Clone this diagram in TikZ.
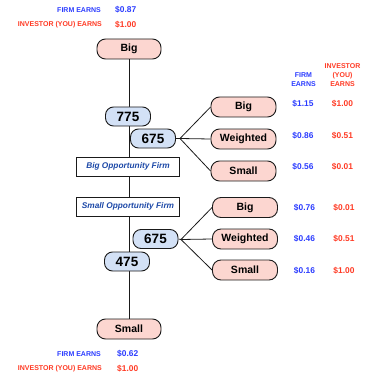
\documentclass[tikz,border=0pt]{standalone}
\usepackage{fontspec}
\setmainfont{Liberation Sans}
\usetikzlibrary{backgrounds}
\definecolor{pinkfill}{HTML}{FCD6D0}
\definecolor{bluefill}{HTML}{D3E1F6}
\definecolor{firmblue}{HTML}{2B3CFF}
\definecolor{invred}{HTML}{FF3A24}
\definecolor{boxblue}{HTML}{1D49A8}
\definecolor{edge}{HTML}{1A1A1A}
\tikzset{
  outcome/.style={draw=edge, line width=0.9pt, fill=pinkfill, rounded corners=8.5pt,
    minimum width=64pt, minimum height=20pt, inner sep=0pt,
    font=\fontsize{10.5}{12}\selectfont\bfseries},
  price/.style={draw=edge, line width=0.9pt, fill=bluefill, rounded corners=8pt,
    minimum width=45pt, minimum height=19pt, inner sep=0pt,
    font=\fontsize{13.5}{15}\selectfont\bfseries},
  firmbox/.style={draw=edge, line width=0.9pt, fill=white,
    minimum width=103pt, minimum height=19pt, inner sep=0pt,
    text=boxblue, font=\fontsize{8.3}{10}\selectfont\bfseries\itshape},
  wire/.style={draw=edge, line width=0.8pt},
  firmtxt/.style={text=firmblue, inner sep=0pt, font=\fontsize{7}{9}\selectfont\bfseries},
  invtxt/.style={text=invred, inner sep=0pt, font=\fontsize{7}{9}\selectfont\bfseries},
  firmval/.style={text=firmblue, inner sep=0pt, font=\fontsize{8.4}{9}\selectfont\bfseries},
  invval/.style={text=invred, inner sep=0pt, font=\fontsize{8.4}{9}\selectfont\bfseries},
}
\begin{document}
\begin{tikzpicture}[x=1pt, y=-1pt]
\useasboundingbox (0,0) rectangle (364,377);

% earnings at the top end
\node[firmtxt, anchor=east] (tfl) at (101,10) {FIRM EARNS};
\node[firmval, anchor=west] (tfv) at (115,10) {\$0.87};
\node[invtxt, anchor=east] (til) at (102,25) {INVESTOR (YOU) EARNS};
\node[invval, anchor=west] (tiv) at (115,25) {\$1.00};

% main axis
\node[outcome] (top) at (129,49) {Big};
\node[price] (p775) at (128,116.5) {775};
\node[price] (p675a) at (153,138.5) {675};
\node[firmbox] (bigfirm) at (128,166.5) {Big Opportunity Firm};
\node[firmbox] (smallfirm) at (128,206.5) {Small Opportunity Firm};
\node[price] (p675b) at (155.5,239) {675};
\node[price] (p475) at (127,261.5) {475};
\node[outcome] (bot) at (129,329) {Small};

% upper branch outcomes
\node[outcome, minimum width=65pt] (ub) at (243.5,107) {Big};
\node[outcome, minimum width=65pt] (uw) at (243.5,139) {Weighted};
\node[outcome, minimum width=65pt] (us) at (243.5,171) {Small};

% lower branch outcomes
\node[outcome, minimum width=65pt] (lb) at (245,207.5) {Big};
\node[outcome, minimum width=65pt] (lw) at (245,239) {Weighted};
\node[outcome, minimum width=65pt] (ls) at (245,270) {Small};

\coordinate (ua) at (180,138.5);
\coordinate (la) at (181,239.5);

\begin{scope}[on background layer]
  \draw[wire] (top.south) -- (bot.north);
  \draw[wire] (p675a.east) -- (ua);
  \draw[wire] (ua) -- (ub.west);
  \draw[wire] (ua) -- (uw.west);
  \draw[wire] (ua) -- (us.west);
  \draw[wire] (p675b.east) -- (la);
  \draw[wire] (la) -- (lb.west);
  \draw[wire] (la) -- (lw.west);
  \draw[wire] (la) -- (ls.west);
\end{scope}

% column headings
\node[firmtxt, align=center] (hf) at (303.5,79.5) {FIRM\\[-0.3pt]EARNS};
\node[invtxt, align=center] (hi) at (342.5,75) {INVESTOR\\[-0.3pt](YOU)\\[-0.3pt]EARNS};

% upper values
\node[firmval] (v1) at (303,104) {\$1.15};
\node[invval] (w1) at (342.5,104) {\$1.00};
\node[firmval] (v2) at (303,136) {\$0.86};
\node[invval] (w2) at (342.5,136) {\$0.51};
\node[firmval] (v3) at (303,167) {\$0.56};
\node[invval] (w3) at (342.5,167) {\$0.01};

% lower values
\node[firmval] (v4) at (304.5,208) {\$0.76};
\node[invval] (w4) at (344,208) {\$0.01};
\node[firmval] (v5) at (304.5,239) {\$0.46};
\node[invval] (w5) at (344,239) {\$0.51};
\node[firmval] (v6) at (304.5,271) {\$0.16};
\node[invval] (w6) at (344,271) {\$1.00};

% earnings at the bottom end
\node[firmtxt, anchor=east] (bfl) at (101,354) {FIRM EARNS};
\node[firmval, anchor=west] (bfv) at (117,354) {\$0.62};
\node[invtxt, anchor=east] (bil) at (102,369) {INVESTOR (YOU) EARNS};
\node[invval, anchor=west] (biv) at (117,369) {\$1.00};
\end{tikzpicture}
\end{document}
